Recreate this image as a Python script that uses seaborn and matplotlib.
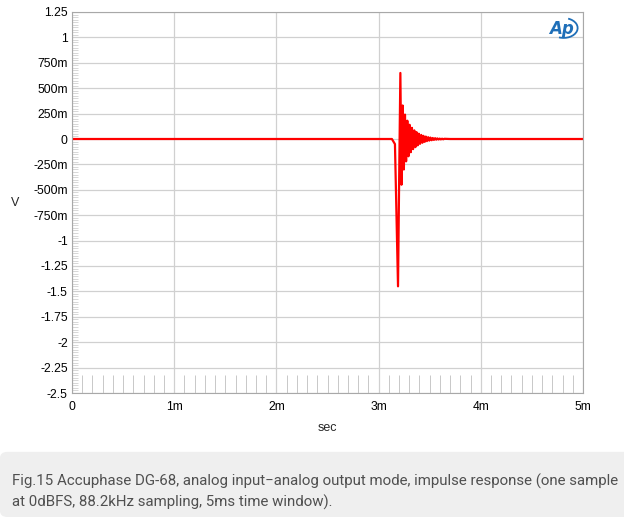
import matplotlib
matplotlib.use("Agg")
import matplotlib.pyplot as plt
import seaborn as sns
import pandas as pd
from matplotlib.patches import Arc, FancyBboxPatch
from matplotlib.ticker import MultipleLocator

# impulse response, time in ms, level in V
time_ms = [0.0, 3.130, 3.160, 3.190, 3.201, 3.213, 3.224, 3.235, 3.247, 3.258,
           3.269, 3.281, 3.292, 3.303, 3.315, 3.326, 3.337, 3.349, 3.360, 3.371,
           3.383, 3.394, 3.405, 3.417, 3.428, 3.439, 3.451, 3.462, 3.473, 3.485,
           3.496, 3.507, 3.519, 3.530, 3.541, 3.553, 3.564, 3.575, 3.587, 3.598,
           3.609, 3.621, 3.632, 3.643, 3.700, 5.0]
volts = [0.0, 0.0, -0.05, -1.45, -0.40, 0.65, -0.45, 0.33, -0.30, 0.24,
         -0.22, 0.18, -0.17, 0.14, -0.13, 0.11, -0.10, 0.085, -0.08, 0.068,
         -0.062, 0.052, -0.048, 0.040, -0.037, 0.031, -0.028, 0.024, -0.021, 0.018,
         -0.016, 0.014, -0.012, 0.010, -0.009, 0.008, -0.007, 0.006, -0.005, 0.004,
         -0.004, 0.003, -0.003, 0.002, 0.0, 0.0]

y_ticks = [1.25, 1.0, 0.75, 0.5, 0.25, 0.0, -0.25, -0.5, -0.75, -1.0, -1.25,
           -1.5, -1.75, -2.0, -2.25, -2.5]
y_labels = ["1.25", "1", "750m", "500m", "250m", "0", "-250m", "-500m", "-750m",
            "-1", "-1.25", "-1.5", "-1.75", "-2", "-2.25", "-2.5"]
x_ticks = [0, 1, 2, 3, 4, 5]
x_labels = ["0", "1m", "2m", "3m", "4m", "5m"]

caption = ("Fig.15 Accuphase DG-68, analog input\u2212analog output mode, impulse response (one sample\n"
           "at 0dBFS, 88.2kHz sampling, 5ms time window).")

df = pd.DataFrame({"t": time_ms, "v": volts})

sns.set_theme(style="whitegrid")
plt.rcParams["font.family"] = ["Liberation Sans", "DejaVu Sans"]

fig = plt.figure(figsize=(6.24, 5.17), dpi=100)
fig.patch.set_facecolor("white")

# caption box
box = FancyBboxPatch((0.0, 0.0), 1.02, 0.126, boxstyle="round,pad=0,rounding_size=0.012",
                     transform=fig.transFigure, facecolor="#efefef", edgecolor="none")
fig.patches.append(box)
fig.text(0.019, 0.049, caption, fontsize=10.8, color="#505050", family=["Roboto", "DejaVu Sans"],
         va="center", ha="left", linespacing=1.5)

ax = fig.add_axes([72 / 624, 124 / 517, 511 / 624, 381 / 517])
sns.lineplot(data=df, x="t", y="v", ax=ax, color="#ff0000", linewidth=1.6,
             estimator=None, sort=False)

ax.set_xlim(0, 5)
ax.set_ylim(-2.5, 1.25)
ax.set_xticks(x_ticks)
ax.set_xticklabels(x_labels)
ax.set_yticks(y_ticks)
ax.set_yticklabels(y_labels)
ax.xaxis.set_minor_locator(MultipleLocator(0.1))
ax.yaxis.set_minor_locator(MultipleLocator(0.025))
ax.grid(True, which="major", color="#d0d0d0", linewidth=0.9)
ax.grid(False, which="minor")
ax.tick_params(axis="both", which="major", labelsize=8.7, colors="#000000", length=0)
ax.tick_params(axis="x", which="major", pad=6)
ax.tick_params(axis="y", which="major", pad=3)
ax.tick_params(axis="x", which="minor", direction="in", length=13, width=0.7,
               color="#c8c8c8", bottom=True)
ax.tick_params(axis="y", which="minor", direction="in", length=4, width=0.5,
               color="#c8c8c8", left=True)
for s in ax.spines.values():
    s.set_color("#a8a8a8")
    s.set_linewidth(0.8)

ax.set_xlabel("sec", fontsize=9, labelpad=6)
ax.set_ylabel("V", fontsize=9, rotation=0, va="center", ha="center")
ax.yaxis.set_label_coords(-0.111, 0.499)

# AP logo
ax.text(0.958, 0.955, "Ap", transform=ax.transAxes, color="#1f6fb8", fontsize=12,
        fontstyle="italic", fontweight="bold", ha="center", va="center",
        family=["DejaVu Sans"])
ax.add_patch(Arc((0.962, 0.958), 0.055, 0.052, angle=0, theta1=-110, theta2=70,
                 transform=ax.transAxes, color="#1f6fb8", linewidth=1.3))

fig.savefig("out.png", dpi=100)
